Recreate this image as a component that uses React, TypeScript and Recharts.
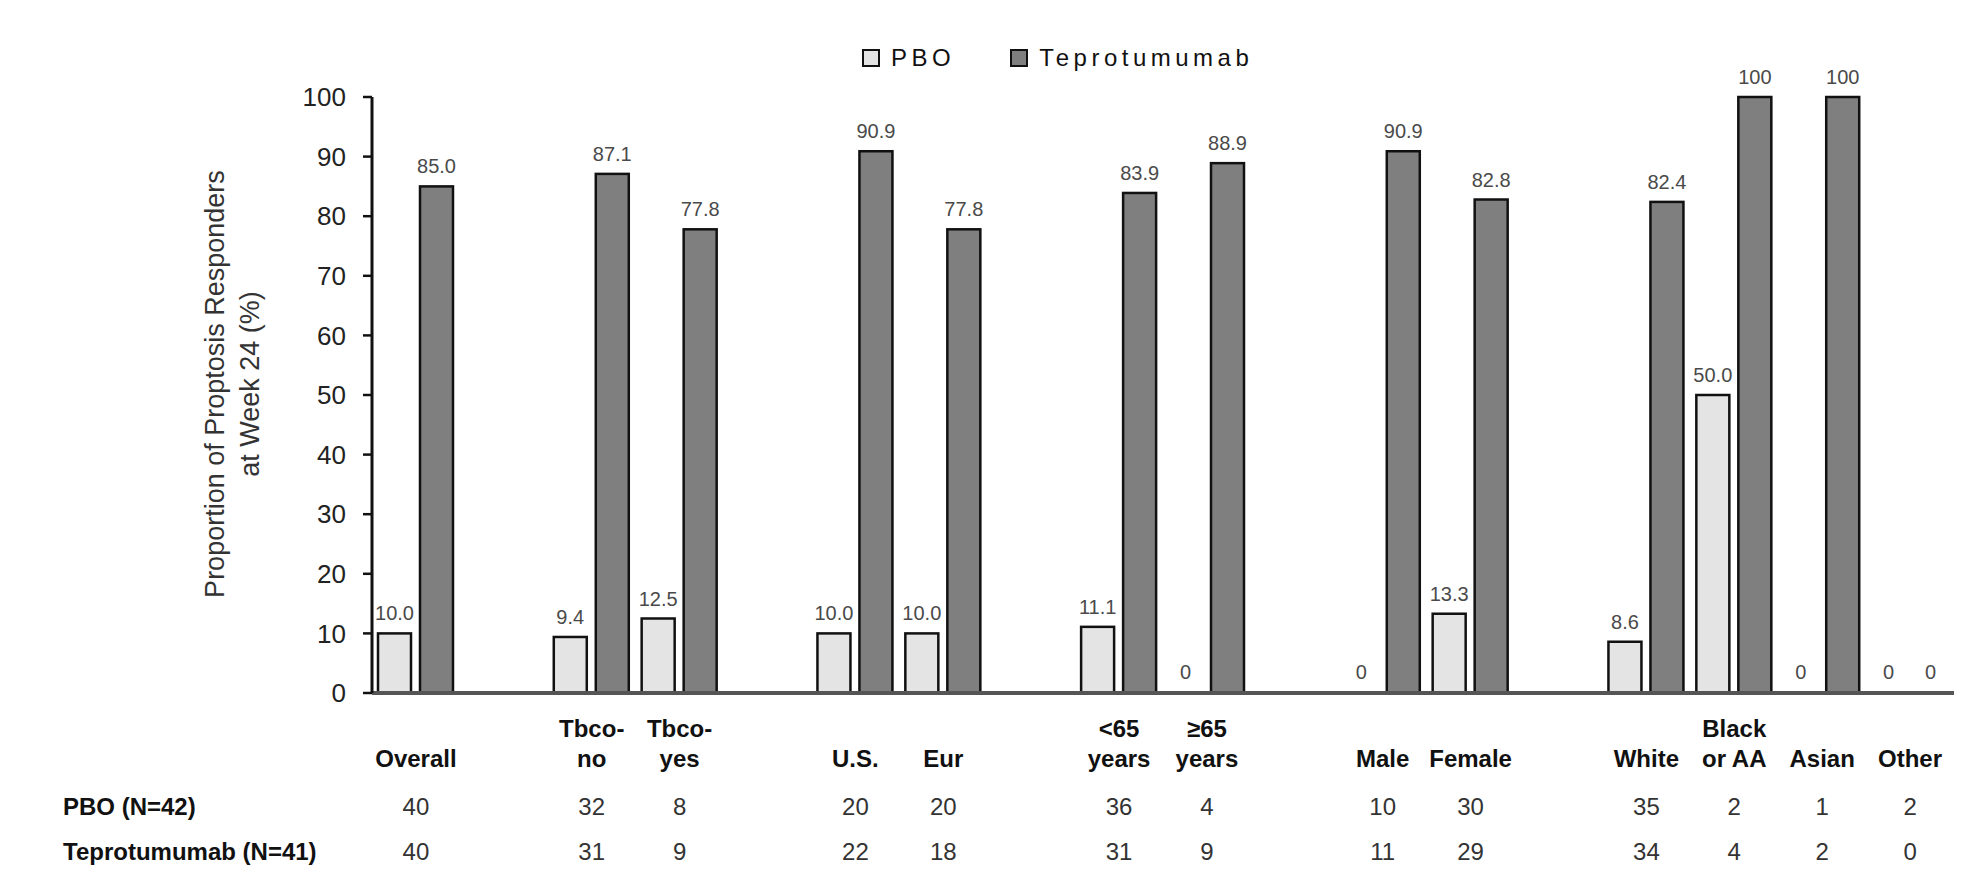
import React from 'react';
import { BarChart, Bar, XAxis, YAxis, Legend, LabelList } from 'recharts';

// blank entries are the spacer slots between subgroups
const categories = [
    'Overall', '', 'Tbco-\nno', 'Tbco-\nyes', '', 'U.S.', 'Eur', '',
    '<65\nyears', '≥65\nyears', '', 'Male', 'Female', '',
    'White', 'Black\nor AA', 'Asian', 'Other',
];
const pboValues = [10.0, null, 9.4, 12.5, null, 10.0, 10.0, null, 11.1, 0, null, 0, 13.3, null, 8.6, 50.0, 0, 0];
const teproValues = [85.0, null, 87.1, 77.8, null, 90.9, 77.8, null, 83.9, 88.9, null, 90.9, 82.8, null, 82.4, 100, 100, 0];
const pboN = [40, null, 32, 8, null, 20, 20, null, 36, 4, null, 10, 30, null, 35, 2, 1, 2];
const teproN = [40, null, 31, 9, null, 22, 18, null, 31, 9, null, 11, 29, null, 34, 4, 2, 0];
const yTicks = [0, 10, 20, 30, 40, 50, 60, 70, 80, 90, 100];
const rowLabels = ['PBO (N=42)', 'Teprotumumab (N=41)'];

const FONT = '"Liberation Sans", Arial, sans-serif';
const PBO_FILL = '#e4e4e4';
const TEPRO_FILL = '#7f7f7f';
const EDGE = '#111111';

const chartData = categories.map((c, i) => ({
    key: `c${i}`,
    label: c,
    pbo: pboValues[i],
    tepro: teproValues[i],
}));

const fmt = (v: number) => (v === 0 || v === 100 ? String(v) : v.toFixed(1));

// zero bars get a 1px stub so their "0" label is still placed
const zeroStub = (v: number | null) => (v === 0 ? 1 : 0);

// eslint-disable-next-line @typescript-eslint/no-explicit-any
const BarShape = (props: any) => {
    const { x, y, width, height, fill, stroke, strokeWidth } = props;
    if (!(height > 1.5)) return null;
    return <rect x={x} y={y} width={width} height={height} fill={fill} stroke={stroke} strokeWidth={strokeWidth} />;
};

// eslint-disable-next-line @typescript-eslint/no-explicit-any
const ValueLabel = (props: any) => {
    const { x, y, width, value } = props;
    if (value === null || value === undefined || value === '') return null;
    return (
        <text
            x={Number(x) + Number(width) / 2}
            y={Number(y) - 13}
            textAnchor="middle"
            fontSize={20}
            fontFamily={FONT}
            fill="#4a4a4a"
        >
            {fmt(Number(value))}
        </text>
    );
};

// eslint-disable-next-line @typescript-eslint/no-explicit-any
const CategoryTick = (props: any) => {
    const { x, y, payload } = props;
    const i = props.index ?? payload.index;
    const lines = (categories[i] || '').split('\n').filter((l) => l);
    return (
        <g fontFamily={FONT}>
            {lines.map((line, k) => (
                <text
                    key={k}
                    x={x}
                    y={y + (lines.length === 2 && k === 0 ? 44 : 74)}
                    textAnchor="middle"
                    fontSize={24}
                    fontWeight={700}
                    fill="#111"
                >
                    {line}
                </text>
            ))}
            {pboN[i] != null && (
                <text x={x} y={y + 122} textAnchor="middle" fontSize={24} fill="#333">
                    {pboN[i]}
                </text>
            )}
            {teproN[i] != null && (
                <text x={x} y={y + 167} textAnchor="middle" fontSize={24} fill="#333">
                    {teproN[i]}
                </text>
            )}
            {i === 0 &&
                rowLabels.map((r, k) => (
                    <text key={r} x={63} y={y + 122 + k * 45} fontSize={24} fontWeight={700} fill="#111">
                        {r}
                    </text>
                ))}
        </g>
    );
};

// eslint-disable-next-line @typescript-eslint/no-explicit-any
const YTitle = (props: any) => {
    const vb = props.viewBox || { y: 97, height: 596 };
    const cy = vb.y + vb.height / 2 - 11;
    return (
        <g fontFamily={FONT} fontSize={27} fill="#333">
            <text x={215} y={cy} textAnchor="middle" dominantBaseline="central" transform={`rotate(-90, 215, ${cy})`}>
                Proportion of Proptosis Responders
            </text>
            <text x={250} y={cy} textAnchor="middle" dominantBaseline="central" transform={`rotate(-90, 250, ${cy})`}>
                at Week 24 (%)
            </text>
        </g>
    );
};

const LegendContent = () => {
    const item = (fill: string, text: string, gap: number) => (
        <div style={{ display: 'flex', alignItems: 'center', marginLeft: gap }}>
            <span
                style={{
                    display: 'inline-block',
                    width: 14,
                    height: 14,
                    background: fill,
                    border: `2px solid ${EDGE}`,
                }}
            />
            <span style={{ marginLeft: 11, fontSize: 24, letterSpacing: 4.5, color: '#111', fontFamily: FONT }}>
                {text}
            </span>
        </div>
    );
    return (
        <div style={{ display: 'flex', alignItems: 'center', height: 28, paddingLeft: 862 }}>
            {item(PBO_FILL, 'PBO', 0)}
            {item(TEPRO_FILL, 'Teprotumumab', 55)}
        </div>
    );
};

export default function App() {
    return (
        <div style={{ position: 'absolute', left: 0, top: 0, width: 1980, height: 891, background: '#fff' }}>
            <BarChart
                width={1980}
                height={891}
                data={chartData}
                margin={{ top: 97, right: 26, bottom: 0, left: 0 }}
                barSize={33}
                barGap={9}
            >
                <XAxis
                    dataKey="key"
                    height={198}
                    interval={0}
                    tickSize={0}
                    tickMargin={0}
                    tickLine={false}
                    axisLine={{ stroke: '#555', strokeWidth: 4 }}
                    tick={<CategoryTick />}
                />
                <YAxis
                    width={372}
                    domain={[0, 100]}
                    ticks={yTicks}
                    interval={0}
                    tickSize={9}
                    tickMargin={17}
                    axisLine={{ stroke: '#111', strokeWidth: 3 }}
                    tickLine={{ stroke: '#111', strokeWidth: 2.5 }}
                    tick={{ fill: '#222', fontSize: 26, fontFamily: FONT }}
                    label={<YTitle />}
                />
                <Legend
                    verticalAlign="middle"
                    align="center"
                    content={<LegendContent />}
                    wrapperStyle={{ top: 44, left: 0, width: 1980 }}
                />
                <Bar
                    dataKey="pbo"
                    name="PBO"
                    fill={PBO_FILL}
                    stroke={EDGE}
                    strokeWidth={2.5}
                    minPointSize={zeroStub}
                    shape={<BarShape />}
                    isAnimationActive={false}
                >
                    <LabelList dataKey="pbo" content={<ValueLabel />} />
                </Bar>
                <Bar
                    dataKey="tepro"
                    name="Teprotumumab"
                    fill={TEPRO_FILL}
                    stroke={EDGE}
                    strokeWidth={2.5}
                    minPointSize={zeroStub}
                    shape={<BarShape />}
                    isAnimationActive={false}
                >
                    <LabelList dataKey="tepro" content={<ValueLabel />} />
                </Bar>
            </BarChart>
        </div>
    );
}
